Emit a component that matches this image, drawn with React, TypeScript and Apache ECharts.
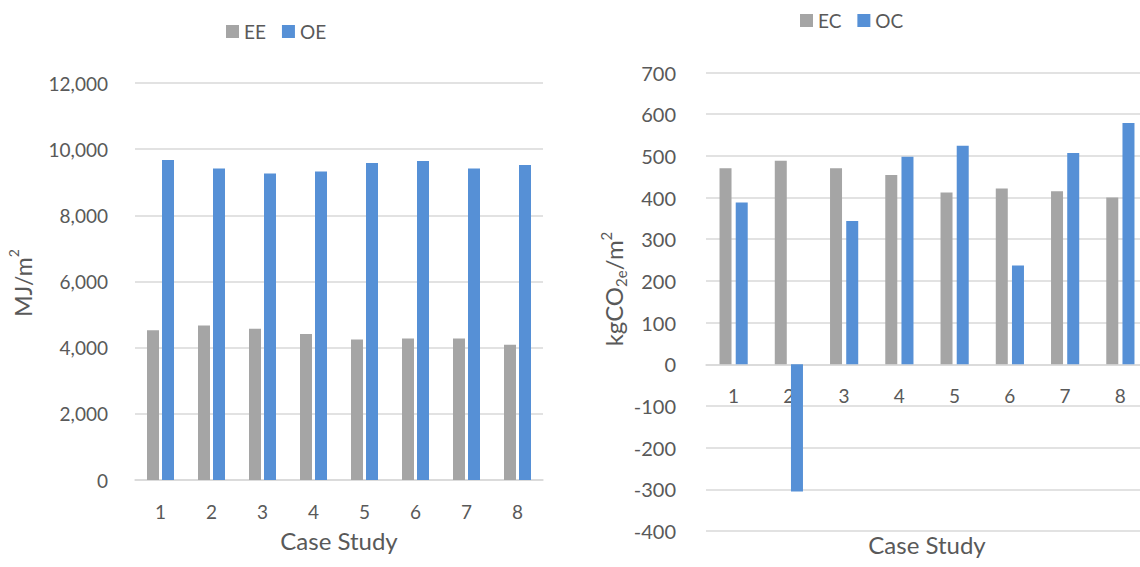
import React, { useEffect, useRef } from "react";
import * as echarts from "echarts";

const categories = ["1", "2", "3", "4", "5", "6", "7", "8"];
const eeValues = [4530, 4670, 4570, 4415, 4245, 4275, 4275, 4085];
const oeValues = [9675, 9415, 9265, 9325, 9585, 9645, 9415, 9525];
const ecValues = [470, 488, 470, 454, 412, 422, 415, 400];
const ocValues = [388, -305, 344, 498, 524, 237, 507, 579];
const leftLegend = ["EE", "OE"];
const rightLegend = ["EC", "OC"];

const GRAY = "#a5a5a5";
const BLUE = "#5690d6";
const TEXT = "#595959";
const GRID = "#d9d9d9";
const FONT = "Lato, 'Open Sans', sans-serif";

const R_TOP = 72.5;
const R_BOTTOM = 36;
const R_MIN = -400;
const R_MAX = 700;

export default function App() {
  const ref = useRef<HTMLDivElement>(null);
  useEffect(() => {
    if (!ref.current) return;
    const chart = echarts.init(ref.current, undefined, { renderer: "svg" });
    const fmt = (v: number) => v.toLocaleString("en-US");
    const axisLabel = { color: TEXT, fontSize: 19, fontFamily: FONT };
    const rHeight = 567 - R_TOP - R_BOTTOM;
    // distance from the bottom of the right grid up to its zero line
    const zeroOffset = (rHeight * (0 - R_MIN)) / (R_MAX - R_MIN);
    chart.setOption({
      animation: false,
      textStyle: { fontFamily: FONT },
      legend: [
        {
          data: leftLegend,
          left: 221,
          top: 17,
          itemWidth: 13,
          itemHeight: 13,
          itemGap: 16,
          icon: "rect",
          textStyle: { color: TEXT, fontSize: 19, fontFamily: FONT },
        },
        {
          data: rightLegend,
          left: 795,
          top: 6,
          itemWidth: 13,
          itemHeight: 13,
          itemGap: 16,
          icon: "rect",
          textStyle: { color: TEXT, fontSize: 19, fontFamily: FONT },
        },
      ],
      grid: [
        { left: 135, right: 597, top: 83, bottom: 87, containLabel: false, outerBoundsMode: "none" },
        { left: 706, right: -8, top: R_TOP, bottom: R_BOTTOM, containLabel: false, outerBoundsMode: "none" },
      ],
      xAxis: [
        {
          type: "category",
          gridIndex: 0,
          data: categories,
          axisTick: { show: false },
          axisLine: { lineStyle: { color: GRID, width: 1.5 } },
          axisLabel: { ...axisLabel, margin: 22 },
          name: "Case Study",
          nameLocation: "middle",
          nameGap: 48,
          nameTextStyle: { color: TEXT, fontSize: 24, fontFamily: FONT },
        },
        {
          type: "category",
          gridIndex: 1,
          data: categories,
          offset: -zeroOffset,
          axisTick: { show: false },
          axisLine: { onZero: false, lineStyle: { color: GRID, width: 1.5 } },
          axisLabel: { ...axisLabel, margin: 22 },
          name: "Case Study",
          nameLocation: "middle",
          nameGap: 168,
          nameTextStyle: { color: TEXT, fontSize: 24, fontFamily: FONT },
        },
      ],
      yAxis: [
        {
          type: "value",
          gridIndex: 0,
          min: 0,
          max: 12000,
          interval: 2000,
          axisLine: { show: false },
          axisTick: { show: false },
          splitLine: { lineStyle: { color: GRID, width: 1.5 } },
          axisLabel: { ...axisLabel, margin: 27, formatter: fmt },
        },
        {
          type: "value",
          gridIndex: 1,
          min: R_MIN,
          max: R_MAX,
          interval: 100,
          axisLine: { show: false },
          axisTick: { show: false },
          splitLine: { lineStyle: { color: GRID, width: 1.5 } },
          axisLabel: { ...axisLabel, fontSize: 20, margin: 30, formatter: fmt },
        },
      ],
      graphic: [
        {
          type: "text",
          x: 20,
          y: 283,
          rotation: Math.PI / 2,
          style: {
            text: "{n|MJ/m}{p|2}",
            align: "center",
            verticalAlign: "middle",
            rich: {
              n: { fontSize: 23, fill: TEXT, fontFamily: FONT, lineHeight: 28, verticalAlign: "bottom" },
              p: { fontSize: 14, fill: TEXT, fontFamily: FONT, lineHeight: 28, verticalAlign: "top" },
            },
          },
        },
        {
          type: "text",
          x: 613,
          y: 289,
          rotation: Math.PI / 2,
          style: {
            text: "{n|kgCO}{s|2e}{n|/m}{p|2}",
            align: "center",
            verticalAlign: "middle",
            rich: {
              n: { fontSize: 24, fill: TEXT, fontFamily: FONT, lineHeight: 30, verticalAlign: "middle" },
              s: { fontSize: 15, fill: TEXT, fontFamily: FONT, lineHeight: 30, verticalAlign: "bottom" },
              p: { fontSize: 15, fill: TEXT, fontFamily: FONT, lineHeight: 30, verticalAlign: "top" },
            },
          },
        },
      ],
      series: [
        {
          name: "EE",
          type: "bar",
          xAxisIndex: 0,
          yAxisIndex: 0,
          data: eeValues,
          barWidth: 12,
          barGap: "25%",
          itemStyle: { color: GRAY },
        },
        {
          name: "OE",
          type: "bar",
          xAxisIndex: 0,
          yAxisIndex: 0,
          data: oeValues,
          barWidth: 12,
          barGap: "25%",
          itemStyle: { color: BLUE },
        },
        {
          name: "EC",
          type: "bar",
          xAxisIndex: 1,
          yAxisIndex: 1,
          data: ecValues,
          barWidth: 12,
          barGap: "35%",
          itemStyle: { color: GRAY },
        },
        {
          name: "OC",
          type: "bar",
          xAxisIndex: 1,
          yAxisIndex: 1,
          data: ocValues,
          barWidth: 12,
          barGap: "35%",
          itemStyle: { color: BLUE },
        },
      ],
    });
    return () => chart.dispose();
  }, []);
  return (
    <div
      ref={ref}
      style={{ position: "fixed", left: 0, top: 0, width: 1140, height: 567, background: "#fff" }}
    />
  );
}
